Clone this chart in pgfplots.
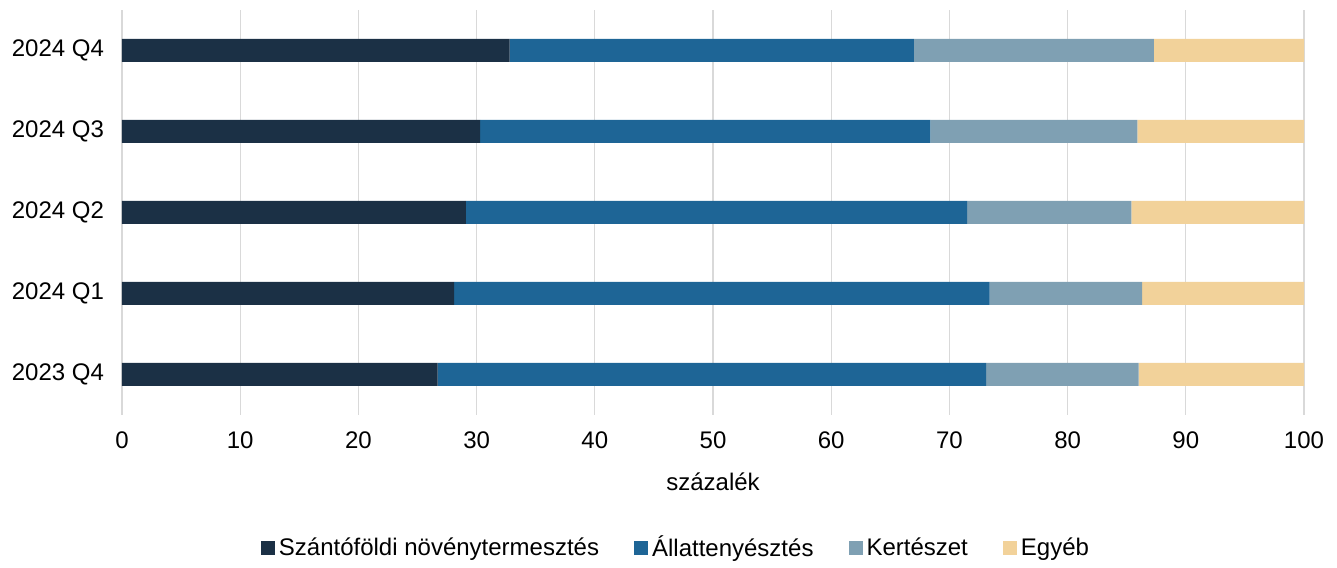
\documentclass[border=0pt]{standalone}
\usepackage{pgfplots}
\pgfplotsset{compat=1.18}
\usepackage{fontspec}
\setmainfont{Liberation Sans}
\definecolor{cA}{HTML}{1B3045}
\definecolor{cB}{HTML}{1E6596}
\definecolor{cC}{HTML}{7FA0B3}
\definecolor{cD}{HTML}{F2D29A}
\definecolor{gridc}{HTML}{D9D9D9}
\begin{document}
\begin{tikzpicture}
\begin{axis}[
  at={(0,0)}, anchor=south west,
  scale only axis,
  width=591pt, height=202.5pt,
  xbar stacked,
  bar width=11.5pt,
  xmin=0, xmax=100,
  ymin=-0.5, ymax=4.5,
  xtick={0,10,...,100},
  ytick={0,1,2,3,4},
  yticklabels={2023 Q4,2024 Q1,2024 Q2,2024 Q3,2024 Q4},
  xmajorgrids=true,
  grid style={gridc, line width=0.6pt},
  axis line style={draw=none},
  major tick length=0pt,
  tick label style={font=\fontsize{12}{14}\selectfont},
  /pgf/number format/assume math mode=true,
  xticklabel style={yshift=-5pt},
  yticklabel style={xshift=-5.5pt},
  xlabel={százalék},
  xlabel style={font=\fontsize{12}{14}\selectfont, at={(axis description cs:0.5,-0.165)}, anchor=center},
  legend style={draw=none, font=\fontsize{12}{14}\selectfont, at={(0.4695,-0.328)}, anchor=center,
    legend columns=-1, /tikz/every even column/.append style={column sep=15.5pt}},
  legend cell align=left,
  legend image code/.code={\fill[#1] (0pt,-3.5pt) rectangle (7pt,3.5pt);},
]
\addplot[fill=cA, draw=none] coordinates {(26.7,0) (28.1,1) (29.1,2) (30.3,3) (32.8,4)};
\addplot[fill=cB, draw=none] coordinates {(46.4,0) (45.3,1) (42.4,2) (38.1,3) (34.2,4)};
\addplot[fill=cC, draw=none] coordinates {(12.9,0) (12.9,1) (13.9,2) (17.5,3) (20.3,4)};
\addplot[fill=cD, draw=none] coordinates {(14.0,0) (13.7,1) (14.6,2) (14.1,3) (12.7,4)};
\legend{Szántóföldi növénytermesztés, Állattenyésztés, Kertészet, Egyéb}
\end{axis}
\path (-61pt,-72.5pt) rectangle (607.5pt,207.5pt);
\end{tikzpicture}
\end{document}
